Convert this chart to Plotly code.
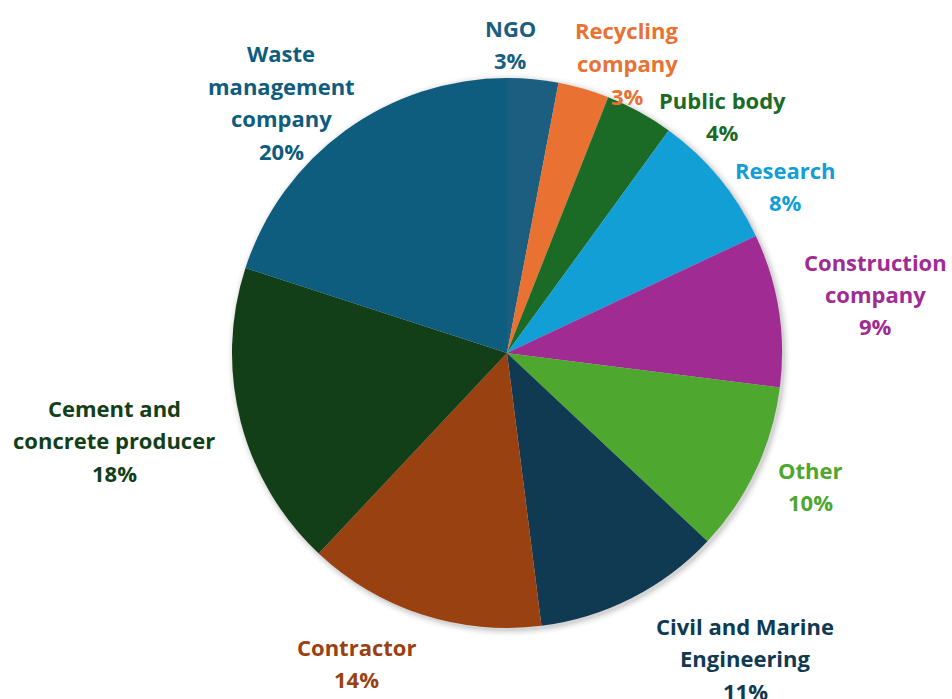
import plotly.graph_objects as go

# Respondent categories, clockwise from 12 o'clock
categories = [
    "NGO", "Recycling company", "Public body", "Research",
    "Construction company", "Other", "Civil and Marine Engineering",
    "Contractor", "Cement and concrete producer", "Waste management company",
]
shares = [3, 3, 4, 8, 9, 10, 11, 14, 18, 20]

# How each label is broken across lines
label_lines = [
    ["NGO"], ["Recycling", "company"], ["Public body"], ["Research"],
    ["Construction", "company"], ["Other"], ["Civil and Marine", "Engineering"],
    ["Contractor"], ["Cement and", "concrete producer"],
    ["Waste", "management", "company"],
]

colors = [
    "#1b5e80", "#e97132", "#1b6b26", "#119fd6", "#a02b93",
    "#4ea72e", "#0f3a52", "#9a4112", "#133f18", "#0e5c7e",
]

W, H = 952, 699
cx, cy, R = 507, 353, 275  # pie centre and radius in pixels

# Label block centres (pixels)
label_pos = [
    (510, 44), (627, 63), (722, 116), (785, 186), (875, 294),
    (810, 486), (745, 658), (356, 663), (114, 440), (281, 102),
]
LINE_H = 32.5
FONT = "'Open Sans', Lato, sans-serif"

fig = go.Figure()
fig.add_trace(go.Pie(
    labels=categories,
    values=shares,
    sort=False,
    direction="clockwise",
    rotation=0,
    marker=dict(colors=colors, line=dict(width=0)),
    textinfo="none",
    hoverinfo="label+percent",
    showlegend=False,
    domain=dict(
        x=[(cx - R) / W, (cx + R) / W],
        y=[1 - (cy + R) / H, 1 - (cy - R) / H],
    ),
))

# Soft drop shadow around the pie
shapes = []
for i, op in enumerate([0.06, 0.045, 0.03, 0.02, 0.01]):
    r = R + 1 + i * 1.5
    shapes.append(dict(
        type="circle", xref="paper", yref="paper", layer="below",
        x0=(cx + 2 - r) / W, x1=(cx + 2 + r) / W,
        y0=1 - (cy + 2 + r) / H, y1=1 - (cy + 2 - r) / H,
        fillcolor=f"rgba(0,0,0,{op})", line=dict(width=0),
    ))

annotations = []
total = sum(shares)
for lines, val, col, (lx, ly) in zip(label_lines, shares, colors, label_pos):
    rows = lines + [f"{round(100 * val / total)}%"]
    n = len(rows)
    for k, txt in enumerate(rows):
        y_px = ly + (k - (n - 1) / 2) * LINE_H
        annotations.append(dict(
            x=lx / W, y=1 - y_px / H, xref="paper", yref="paper",
            text=f"<b>{txt}</b>", showarrow=False,
            xanchor="center", yanchor="middle",
            font=dict(family=FONT, size=22, color=col),
        ))

fig.update_layout(
    width=W, height=H,
    margin=dict(l=0, r=0, t=0, b=0),
    paper_bgcolor="white", plot_bgcolor="white",
    shapes=shapes, annotations=annotations,
)

fig.write_html("out.html")
